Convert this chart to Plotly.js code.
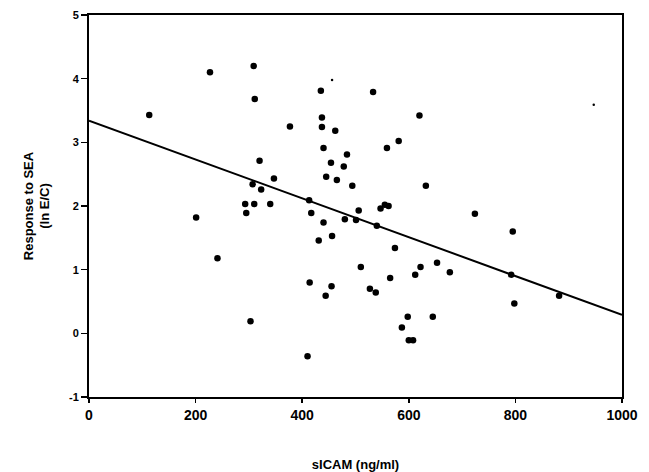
<!DOCTYPE html>
<html>
<head>
<meta charset="utf-8">
<script src="https://cdn.plot.ly/plotly-3.0.1.min.js"></script>
<style>html,body{margin:0;padding:0;background:#fff;}#chart{width:649px;height:472px;}</style>
</head>
<body>
<div id="chart"></div>
<script>
// sICAM (ng/ml) values of the points
const sicam = [113, 227, 309, 311, 377, 320, 347, 307, 323, 293, 310, 340, 295, 201, 241, 303,
  435, 533, 620, 437, 437, 462, 581, 440, 559, 484, 454, 478, 445, 465, 494, 632,
  413, 555, 562, 547, 417, 506, 480, 501,
  440, 431, 456, 540, 574, 510, 565, 612, 622, 653, 677, 414, 455, 444, 527, 538,
  598, 645, 587, 600, 608, 410,
  724, 795, 792, 798, 882];
// Response to SEA (ln E/C)
const response = [3.43, 4.10, 4.20, 3.68, 3.25, 2.71, 2.43, 2.34, 2.26, 2.03, 2.03, 2.03, 1.89, 1.82, 1.18, 0.19,
  3.81, 3.79, 3.42, 3.39, 3.24, 3.18, 3.02, 2.91, 2.91, 2.81, 2.68, 2.62, 2.46, 2.41, 2.32, 2.32,
  2.09, 2.02, 2.00, 1.96, 1.89, 1.93, 1.79, 1.78,
  1.74, 1.46, 1.53, 1.69, 1.34, 1.04, 0.87, 0.92, 1.04, 1.11, 0.96, 0.80, 0.74, 0.59, 0.70, 0.64,
  0.26, 0.26, 0.09, -0.11, -0.11, -0.36,
  1.88, 1.60, 0.92, 0.47, 0.59];
// tiny specks in the scan
const speckX = [456, 947];
const speckY = [3.98, 3.59];
// regression line end points
const fitX = [0, 1000];
const fitY = [3.34, 0.29];
const xTicks = [0, 200, 400, 600, 800, 1000];
const yTicks = [-1, 0, 1, 2, 3, 4, 5];

const font = "'Liberation Sans', Arial, sans-serif";
const data = [
  {x: fitX, y: fitY, mode: 'lines', type: 'scatter', line: {color: '#000', width: 2}, hoverinfo: 'skip'},
  {x: sicam, y: response, mode: 'markers', type: 'scatter', marker: {color: '#000', size: 6.5}},
  {x: speckX, y: speckY, mode: 'markers', type: 'scatter', marker: {color: '#000', size: 2.5}}
];
const layout = {
  width: 649, height: 472,
  margin: {l: 89, r: 27, t: 15, b: 75},
  showlegend: false,
  paper_bgcolor: '#fff', plot_bgcolor: '#fff',
  font: {family: font, color: '#000'},
  xaxis: {
    range: [0, 1000], tickvals: xTicks, ticktext: xTicks.map(String),
    showgrid: false, zeroline: false,
    showline: true, linecolor: '#000', linewidth: 2, mirror: true,
    ticks: 'outside', ticklen: 4, tickwidth: 1.5, tickcolor: '#000',
    tickfont: {family: font, size: 14, color: '#000', weight: 'bold'},
    title: {text: 'sICAM (ng/ml)', font: {family: font, size: 13, color: '#000', weight: 'bold'}, standoff: 38}
  },
  yaxis: {
    range: [-1, 5], tickvals: yTicks, ticktext: yTicks.map(String),
    showgrid: false, zeroline: false,
    showline: true, linecolor: '#000', linewidth: 2, mirror: true,
    ticks: 'outside', ticklen: 6, tickwidth: 1.5, tickcolor: '#000',
    tickfont: {family: font, size: 11, color: '#000', weight: 'bold'},
    title: {text: 'Response to SEA<br>(ln E/C)', font: {family: font, size: 13, color: '#000', weight: 'bold'}, standoff: 16}
  }
};
Plotly.newPlot('chart', data, layout, {displayModeBar: false, staticPlot: true});
</script>
</body>
</html>
